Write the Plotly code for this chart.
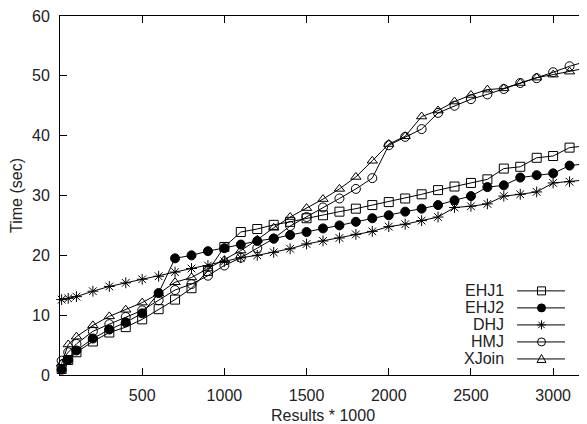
import plotly.graph_objects as go

x_vals = [10, 50] + list(range(100, 3300, 100))

ehj1 = [1.0, 2.5, 3.8, 5.6, 7.1, 8.0, 9.3, 11.0, 12.6, 14.5, 17.4, 21.4, 23.9, 24.4, 25.1, 25.6,
        26.2, 26.7, 27.3, 27.8, 28.4, 28.9, 29.5, 30.2, 30.9, 31.5, 32.1, 32.7, 34.5, 34.8,
        36.3, 36.6, 38.0, 38.3]
ehj2 = [0.9, 2.5, 4.1, 6.1, 7.6, 8.8, 10.3, 13.7, 19.5, 20.0, 20.7, 21.2, 21.8, 22.4, 22.8, 23.4,
        23.9, 24.5, 25.0, 25.6, 26.2, 26.7, 27.3, 27.8, 28.4, 29.2, 29.9, 31.4, 31.7, 33.0,
        33.4, 33.7, 35.0, 35.3]
dhj = [12.6, 12.8, 13.1, 14.0, 14.8, 15.4, 16.0, 16.5, 17.2, 17.8, 18.3, 19.0, 19.6, 20.0, 20.5, 21.1,
       21.9, 22.4, 22.9, 23.5, 24.0, 24.8, 25.2, 25.8, 26.4, 28.0, 28.2, 28.6, 29.9, 30.2,
       30.6, 32.1, 32.3, 32.6]
hmj = [2.4, 3.8, 5.2, 7.3, 8.5, 9.7, 10.8, 12.5, 14.2, 15.2, 16.6, 18.3, 19.6, 21.2, 22.8, 24.9,
       26.4, 28.0, 29.5, 31.1, 32.9, 38.4, 39.8, 41.1, 43.8, 45.0, 46.1, 46.9, 47.8, 48.8,
       49.6, 50.6, 51.6, 52.4]
xjoin = [1.9, 5.1, 6.4, 8.3, 9.8, 10.9, 12.1, 13.6, 15.5, 16.3, 17.8, 19.2, 20.8, 22.6, 24.6, 26.4,
         27.9, 29.4, 31.1, 33.1, 35.8, 38.6, 39.9, 43.2, 44.2, 45.7, 46.8, 47.7, 47.9, 48.8,
         49.7, 50.2, 50.7, 51.3]

series_names = ["EHJ1", "EHJ2", "DHJ", "HMJ", "XJoin"]
series_values = [ehj1, ehj2, dhj, hmj, xjoin]
symbols = ["square-open", "circle", "asterisk-open", "circle-open", "triangle-up-open"]

x_tickvals = [500, 1000, 1500, 2000, 2500, 3000]
y_tickvals = [0, 10, 20, 30, 40, 50, 60]

FONT = "Liberation Sans, Arial, sans-serif"

fig = go.Figure()
for name, vals, sym in zip(series_names, series_values, symbols):
    fig.add_trace(go.Scatter(
        x=x_vals, y=vals, name=name, mode="lines+markers",
        line=dict(color="black", width=1),
        marker=dict(symbol=sym, size=9, color="black",
                    line=dict(color="black", width=1)),
        cliponaxis=False, showlegend=False,
    ))

# custom legend (gnuplot style: label on the left, sample on the right)
leg_top = 0.2343
leg_step = 0.0474
txt_x = 0.848
line_x0, line_x1, mark_x = 0.869, 0.960, 0.9154
shapes = []
annotations = []
glyphs = {
    "square-open": ("rect", None),
    "circle": ("circle", "black"),
    "circle-open": ("circle", None),
}
for i, (name, sym) in enumerate(zip(series_names, symbols)):
    yc = leg_top - i * leg_step
    annotations.append(dict(
        text=name, xref="paper", yref="paper", x=txt_x, y=yc,
        xanchor="right", yanchor="middle", showarrow=False,
        font=dict(family=FONT, size=16, color="#222"),
    ))
    shapes.append(dict(type="line", xref="paper", yref="paper",
                       x0=line_x0, x1=line_x1, y0=yc, y1=yc,
                       line=dict(color="black", width=1)))
    common = dict(xref="paper", yref="paper", xsizemode="pixel", ysizemode="pixel",
                  xanchor=mark_x, yanchor=yc, line=dict(color="black", width=1))
    if sym in glyphs:
        kind, fill = glyphs[sym]
        shapes.append(dict(type=kind, x0=-4, x1=4, y0=-4, y1=4,
                           fillcolor=fill if fill else "rgba(0,0,0,0)", **common))
    elif sym == "asterisk-open":
        shapes.append(dict(type="path",
                           path="M -4.5,0 L 4.5,0 M 0,-4.5 L 0,4.5 M -3.2,-3.2 L 3.2,3.2 M -3.2,3.2 L 3.2,-3.2",
                           **common))
    else:
        shapes.append(dict(type="path", path="M -4.5,-3.5 L 4.5,-3.5 L 0,4.5 Z",
                           **common))

fig.update_layout(
    width=579, height=416,
    margin=dict(l=52, r=1, t=8, b=49, autoexpand=False),
    paper_bgcolor="white", plot_bgcolor="white",
    font=dict(family=FONT, size=16, color="#222"),
    showlegend=False,
    shapes=shapes, annotations=annotations,
)
fig.update_xaxes(
    range=[0, 3200], tickvals=x_tickvals, ticks="inside", ticklen=7,
    tickcolor="black", showline=True, linecolor="black", linewidth=1,
    mirror="ticks", showgrid=False, zeroline=False, automargin=False,
    ticklabelstandoff=6, ticklabeloverflow="allow",
    title=dict(text="Results * 1000", standoff=11, font=dict(size=16)),
    tickfont=dict(size=16),
)
fig.update_yaxes(
    range=[0, 60], tickvals=y_tickvals, ticks="inside", ticklen=7,
    tickcolor="black", showline=True, linecolor="black", linewidth=1,
    mirror="ticks", showgrid=False, zeroline=False, automargin=False,
    ticklabelstandoff=6, ticklabeloverflow="allow",
    title=dict(text="Time (sec)", standoff=13, font=dict(size=16)),
    tickfont=dict(size=16),
)

fig.write_html("out.html")
